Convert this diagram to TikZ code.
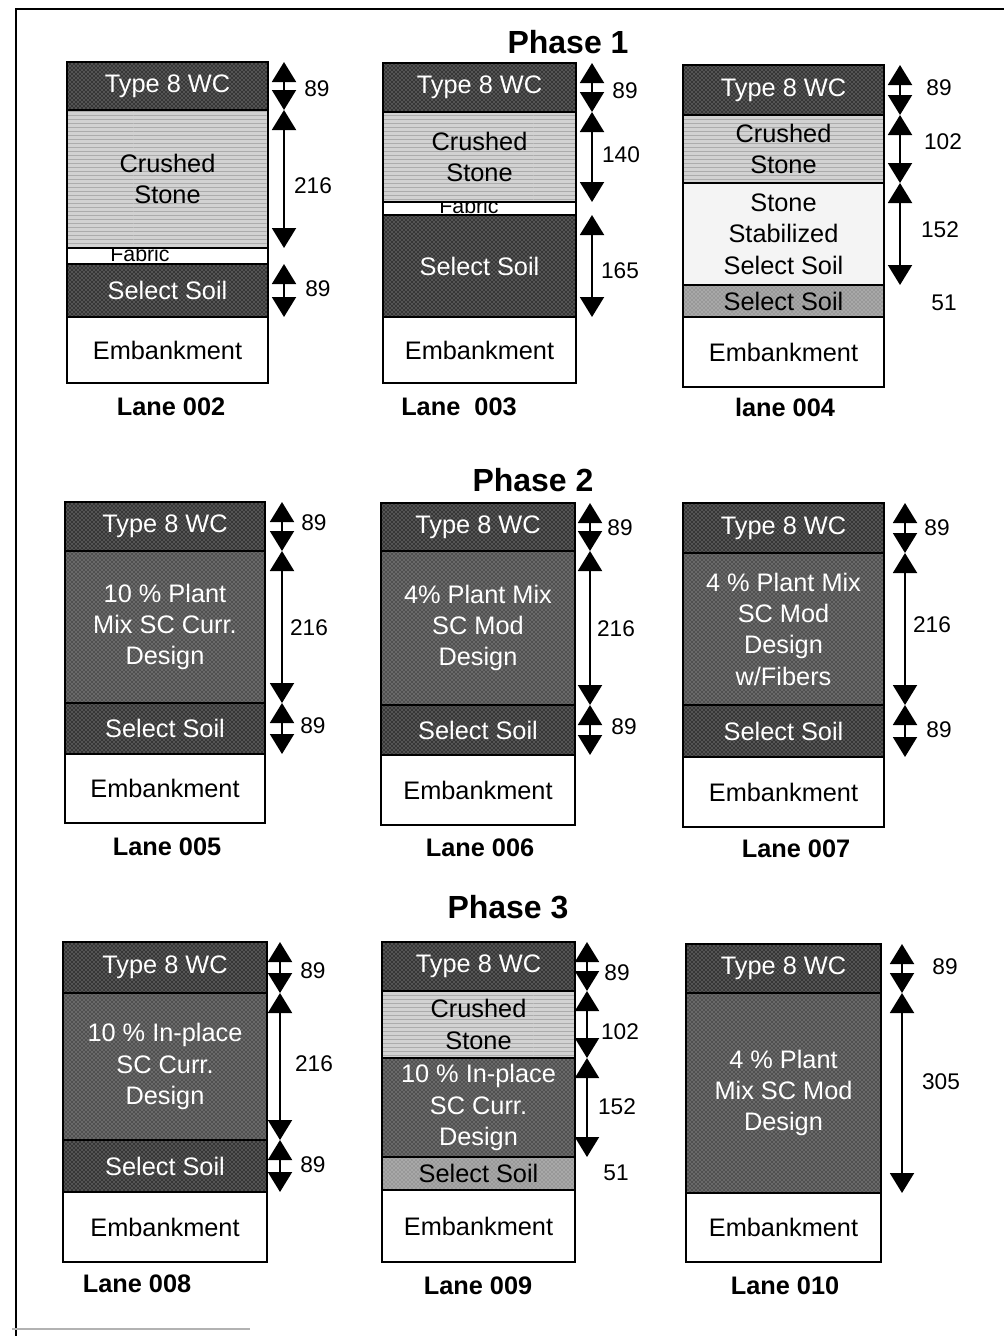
\documentclass[tikz,border=0pt]{standalone}
\usepackage{fontspec}
\setmainfont{Liberation Sans}
\usetikzlibrary{arrows.meta,patterns,calc}
\definecolor{dk}{HTML}{363636}
\definecolor{md}{HTML}{505050}
\definecolor{ls}{HTML}{A8A8A8}
\definecolor{cst}{HTML}{D2D2D2}
\definecolor{sss}{HTML}{F4F4F4}
\newcommand\layerfont{\fontsize{19}{23.5}\selectfont}
\newcommand\numfont{\fontsize{17}{20}\selectfont}
\newcommand\lanefont{\fontsize{19}{22}\selectfont\bfseries}
\newcommand\titlefont{\fontsize{24}{28}\selectfont\bfseries}
\newcommand\fabfont{\fontsize{16}{18}\selectfont}
\newcommand\lay[7]{\node[layer,#6,bd,minimum width={(#4-#2)*0.75pt},minimum height={(#5-#3)*0.75pt}] (#1) at ({(#2+#4)/2},{(#3+#5)/2}) {#7};}
\tikzset{
  layer/.style={inner sep=0pt, outer sep=0pt, align=center, font=\layerfont},
  bd/.style={postaction={draw=black, line width=1.1pt}},
  wc/.style={fill=dk, text=white, postaction={pattern=crosshatch dots, pattern color=gray!55}},
  sc/.style={fill=md, text=white, postaction={pattern=crosshatch dots, pattern color=gray!50}},
  thin/.style={fill=ls, text=black, postaction={pattern=crosshatch dots, pattern color=gray!80!black}},
  cs/.style={fill=cst, text=black, postaction={pattern=horizontal lines, pattern color=gray!65}},
  sst/.style={fill=sss, text=black},
  fab/.style={fill=white},
  emb/.style={fill=white, text=black},
  fabt/.style={font=\fabfont, anchor=base, inner sep=0pt},
  dim/.style={line width=1.5pt, {Triangle[width=18pt,length=15pt]}-{Triangle[width=18pt,length=15pt]}},
  num/.style={font=\numfont, inner sep=0pt},
  lane/.style={font=\lanefont, inner sep=0pt},
  title/.style={font=\titlefont, inner sep=0pt}
}
\begin{document}
\begin{tikzpicture}[x=0.75pt,y=-0.75pt]
\useasboundingbox (0,0) rectangle (1004,1336);
\fill[white] (0,0) rectangle (1004,1336);
% frame
\draw[line width=2.2pt] (16,1336) -- (16,9) -- (1004,9);
\draw[gray!60, line width=1pt] (12,1329) -- (250,1329);

% ---------- Phase 1 ----------
\node[title] (ph1) at (568,42) {Phase 1};

% Lane 002
\coordinate (x2) at (284,0);
\lay{f2}{67}{248}{268}{264}{fab}{}
\node[fabt] (f2t) at (140,261) {Fabric};
\lay{w2}{67}{62}{268}{110}{wc}{Type 8 WC}
\lay{c2}{67}{110}{268}{248}{cs}{Crushed\\Stone}
\lay{s2}{67}{264}{268}{317}{wc}{Select Soil}
\lay{e2}{67}{317}{268}{383}{emb}{Embankment}
\draw[dim] (w2.north -| x2) -- (w2.south -| x2);
\draw[dim] (c2.north -| x2) -- (c2.south -| x2);
\draw[dim] (s2.north -| x2) -- (s2.south -| x2);
\node[num] (n2a) at (317,89) {89};
\node[num] (n2b) at (313,186) {216};
\node[num] (n2c) at (318,289) {89};
\node[lane] (L2) at (171,407) {Lane 002};

% Lane 003
\coordinate (x3) at (592,0);
\lay{f3}{383}{202}{576}{215}{fab}{}
\node[fabt] (f3t) at (469,213.5) {Fabric};
\lay{w3}{383}{63}{576}{112}{wc}{Type 8 WC}
\lay{c3}{383}{112}{576}{202}{cs}{Crushed\\Stone}
\lay{s3}{383}{215}{576}{317}{wc}{Select Soil}
\lay{e3}{383}{317}{576}{383}{emb}{Embankment}
\draw[dim] (w3.north -| x3) -- (w3.south -| x3);
\draw[dim] (c3.north -| x3) -- (c3.south -| x3);
\draw[dim] (s3.north -| x3) -- (s3.south -| x3);
\node[num] (n3a) at (625,91) {89};
\node[num] (n3b) at (621,155) {140};
\node[num] (n3c) at (620,271) {165};
\node[lane] (L3) at (459,407) {Lane\ \ 003};

% Lane 004
\coordinate (x4) at (900,0);
\lay{w4}{683}{65}{884}{115}{wc}{Type 8 WC}
\lay{c4}{683}{115}{884}{183}{cs}{Crushed\\Stone}
\lay{t4}{683}{183}{884}{285}{sst}{Stone\\Stabilized\\Select Soil}
\lay{s4}{683}{285}{884}{317}{thin}{Select Soil}
\lay{e4}{683}{317}{884}{387}{emb}{Embankment}
\draw[dim] (w4.north -| x4) -- (w4.south -| x4);
\draw[dim] (c4.north -| x4) -- (c4.south -| x4);
\draw[dim] (t4.north -| x4) -- (t4.south -| x4);
\node[num] (n4a) at (939,88) {89};
\node[num] (n4b) at (943,142) {102};
\node[num] (n4c) at (940,230) {152};
\node[num] (n4d) at (944,303) {51};
\node[lane] (L4) at (785,407) {lane 004};

% ---------- Phase 2 ----------
\node[title] (ph2) at (533,480) {Phase 2};

% Lane 005
\coordinate (x5) at (282,0);
\lay{w5}{65}{502}{265}{551}{wc}{Type 8 WC}
\lay{m5}{65}{551}{265}{703}{sc}{10 \% Plant\\Mix SC Curr.\\Design}
\lay{s5}{65}{703}{265}{754}{wc}{Select Soil}
\lay{e5}{65}{754}{265}{823}{emb}{Embankment}
\draw[dim] (w5.north -| x5) -- (w5.south -| x5);
\draw[dim] (m5.north -| x5) -- (m5.south -| x5);
\draw[dim] (s5.north -| x5) -- (s5.south -| x5);
\node[num] (n5a) at (314,523) {89};
\node[num] (n5b) at (309,628) {216};
\node[num] (n5c) at (313,726) {89};
\node[lane] (L5) at (167,847) {Lane 005};

% Lane 006
\coordinate (x6) at (590,0);
\lay{w6}{381}{503}{575}{551}{wc}{Type 8 WC}
\lay{m6}{381}{551}{575}{705}{sc}{4\% Plant Mix\\SC Mod\\Design}
\lay{s6}{381}{705}{575}{755}{wc}{Select Soil}
\lay{e6}{381}{755}{575}{825}{emb}{Embankment}
\draw[dim] (w6.north -| x6) -- (w6.south -| x6);
\draw[dim] (m6.north -| x6) -- (m6.south -| x6);
\draw[dim] (s6.north -| x6) -- (s6.south -| x6);
\node[num] (n6a) at (620,528) {89};
\node[num] (n6b) at (616,629) {216};
\node[num] (n6c) at (624,727) {89};
\node[lane] (L6) at (480,848) {Lane 006};

% Lane 007
\coordinate (x7) at (905,0);
\lay{w7}{683}{503}{884}{553}{wc}{Type 8 WC}
\lay{m7}{683}{553}{884}{705}{sc}{4 \% Plant Mix\\SC Mod\\Design\\w/Fibers}
\lay{s7}{683}{705}{884}{757}{wc}{Select Soil}
\lay{e7}{683}{757}{884}{827}{emb}{Embankment}
\draw[dim] (w7.north -| x7) -- (w7.south -| x7);
\draw[dim] (m7.north -| x7) -- (m7.south -| x7);
\draw[dim] (s7.north -| x7) -- (s7.south -| x7);
\node[num] (n7a) at (937,528) {89};
\node[num] (n7b) at (932,625) {216};
\node[num] (n7c) at (939,730) {89};
\node[lane] (L7) at (796,849) {Lane 007};

% ---------- Phase 3 ----------
\node[title] (ph3) at (508,907) {Phase 3};

% Lane 008
\coordinate (x8) at (280,0);
\lay{w8}{63}{942}{267}{993}{wc}{Type 8 WC}
\lay{m8}{63}{993}{267}{1140}{sc}{10 \% In-place\\SC Curr.\\Design}
\lay{s8}{63}{1140}{267}{1192}{wc}{Select Soil}
\lay{e8}{63}{1192}{267}{1262}{emb}{Embankment}
\draw[dim] (w8.north -| x8) -- (w8.south -| x8);
\draw[dim] (m8.north -| x8) -- (m8.south -| x8);
\draw[dim] (s8.north -| x8) -- (s8.south -| x8);
\node[num] (n8a) at (313,971) {89};
\node[num] (n8b) at (314,1064) {216};
\node[num] (n8c) at (313,1165) {89};
\node[lane] (L8) at (137,1284) {Lane 008};

% Lane 009
\coordinate (x9) at (587,0);
\lay{w9}{382}{942}{575}{991}{wc}{Type 8 WC}
\lay{c9}{382}{991}{575}{1058}{cs}{Crushed\\Stone}
\lay{m9}{382}{1058}{575}{1157}{sc}{10 \% In-place\\SC Curr.\\Design}
\lay{s9}{382}{1157}{575}{1190}{thin}{Select Soil}
\lay{e9}{382}{1190}{575}{1262}{emb}{Embankment}
\draw[dim] (w9.north -| x9) -- (w9.south -| x9);
\draw[dim] (c9.north -| x9) -- (c9.south -| x9);
\draw[dim] (m9.north -| x9) -- (m9.south -| x9);
\node[num] (n9a) at (617,973) {89};
\node[num] (n9b) at (620,1032) {102};
\node[num] (n9c) at (617,1107) {152};
\node[num] (n9d) at (616,1173) {51};
\node[lane] (L9) at (478,1286) {Lane 009};

% Lane 010
\coordinate (x10) at (902,0);
\lay{w10}{686}{944}{881}{993}{wc}{Type 8 WC}
\lay{m10}{686}{993}{881}{1193}{sc}{4 \% Plant\\Mix SC Mod\\Design}
\lay{e10}{686}{1193}{881}{1262}{emb}{Embankment}
\draw[dim] (w10.north -| x10) -- (w10.south -| x10);
\draw[dim] (m10.north -| x10) -- (m10.south -| x10);
\node[num] (n10a) at (945,967) {89};
\node[num] (n10b) at (941,1082) {305};
\node[lane] (L10) at (785,1286) {Lane 010};
\end{tikzpicture}
\end{document}
